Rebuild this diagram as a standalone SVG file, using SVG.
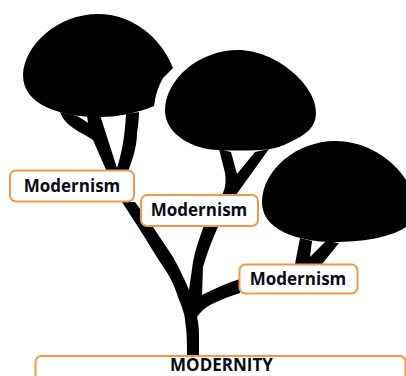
<svg xmlns="http://www.w3.org/2000/svg" width="406" height="376" viewBox="0 0 406 376">
<style>
.n{fill:#fff;stroke:#f79646;stroke-width:2}
.t{font-family:"Open Sans","Liberation Sans",sans-serif;font-weight:700;font-size:17px;fill:#0a0a14;text-anchor:middle}
</style>
<rect width="406" height="376" fill="#fff"/>
<g id="tree" fill="#000">
<path d="M23 75C24 45 58 14 98 14C132 14 161 37 173 68L163 78Q156 90 154 106C140 112 120 117 100 117C60 117 23 105 23 75Z"/>
<path d="M165 110C166 78 200 50 238 50C276 50 316 85 316 112C316 122 312 130 300 137C290 142 280 149 262 150C240 151 215 151 203 148C180 142 165 128 165 110Z"/>
<path d="M262 202C262 170 297 141 335 141C365 141 392 158 406 180V227C390 238 360 242 333 242C310 242 262 235 262 202Z"/>
<g id="branches">
<path d="M60 112C62 117 64 120 67 123C74 130 84 134 93 140L107 172H128C133 158 137 146 137 133C138 126 139 119 139 112L126 114C125 135 122 152 117 168L100 115L87 115L88 123C85 121 81 118 77 116L60 112Z"/>
<path d="M219 149L225 173C226 180 226 188 222 195L203 228C199 240 195 250 193 262L189 290C184 278 179 268 173 257L153 227L135 202H122L140 230C147 241 153 251 160 262C168 273 174 284 178 297C182 307 185 315 185 320C187 332 187 345 187 357H199V340C199 332 199 325 197 317C200 312 205 308 210 305C220 300 230 296 240 293V279C227 283 214 289 202 295L203 267C207 253 212 240 218 227L236 195L241 188L269 149L255 152L237 174L231 152L219 149Z"/>
<path d="M300 238L295 264H322L339 243L326 241L310 257L312 241L300 238Z"/>
</g>
</g>
<g id="node-modernism-1"><rect class="n" x="10" y="170.500" width="124" height="31" rx="6"/><text class="t" x="72" y="192">Modernism</text></g>
<g id="node-modernism-2"><rect class="n" x="141" y="195" width="117" height="31" rx="6"/><text class="t" x="199" y="216">Modernism</text></g>
<g id="node-modernism-3"><rect class="n" x="239.500" y="264.500" width="118" height="29" rx="6"/><text class="t" x="298" y="285">Modernism</text></g>
<g id="node-modernity"><rect class="n" x="35.500" y="356" width="370" height="30" rx="6"/><text class="t" x="221.500" y="371">MODERNITY</text></g>
</svg>
